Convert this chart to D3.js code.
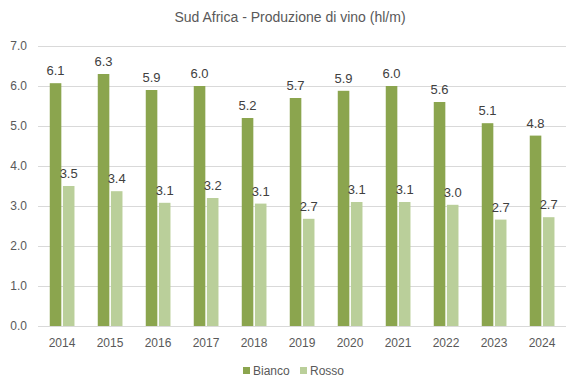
<!DOCTYPE html>
<html><head><meta charset="utf-8">
<script src="https://cdn.jsdelivr.net/npm/d3@7"></script>
<style>body{margin:0;background:#fff}svg{display:block}</style>
</head><body>
<svg id="c" width="581" height="392"></svg>
<script>
const years = ["2014","2015","2016","2017","2018","2019","2020","2021","2022","2023","2024"];
const bianco = [6.07,6.3,5.9,6.0,5.2,5.7,5.88,6.0,5.6,5.07,4.76];
const rosso = [3.5,3.37,3.08,3.2,3.06,2.68,3.1,3.1,3.03,2.66,2.72];
const seriesNames = ["Bianco","Rosso"];
const yTicks = [0,1,2,3,4,5,6,7];
const colors = ["#8BA54E","#BACF9A"];

const svg = d3.select("#c");
const font = "Liberation Sans, Arial, sans-serif";
const m = {l:38, r:15, t:46, b:66};
const W = 581, H = 392;
const x = d3.scaleBand().domain(years).range([m.l, W-m.r]).paddingInner(0).paddingOuter(0);
const y = d3.scaleLinear().domain([0,7]).range([H-m.b, m.t]);
const x1 = d3.scaleBand().domain(seriesNames).range([x.bandwidth()*0.245, x.bandwidth()*0.76]).paddingInner(0.12);

svg.append("g").selectAll("line").data(yTicks).join("line")
  .attr("x1", m.l).attr("x2", W-m.r).attr("y1", d=>y(d)+0.5).attr("y2", d=>y(d)+0.5)
  .attr("stroke","#d9d9d9").attr("stroke-width",1);

const yAxis = svg.append("g").attr("transform",`translate(${m.l},0)`)
  .call(d3.axisLeft(y).tickValues(yTicks).tickFormat(d3.format(".1f")).tickSize(0).tickPadding(11));
yAxis.select(".domain").remove();
yAxis.selectAll("text").attr("fill","#595959").style("font-family",font).style("font-size","12px");

const xAxis = svg.append("g").attr("transform",`translate(0,${H-m.b})`)
  .call(d3.axisBottom(x).tickSize(0).tickPadding(12));
xAxis.select(".domain").remove();
xAxis.selectAll("text").attr("fill","#595959").style("font-family",font).style("font-size","12px");

const data = years.map((yr,i)=>({yr, vals:[bianco[i], rosso[i]]}));
const g = svg.append("g").selectAll("g").data(data).join("g")
  .attr("transform", d=>`translate(${x(d.yr)},0)`);
g.selectAll("rect").data(d=>d.vals.map((v,j)=>({v,j}))).join("rect")
  .attr("x", d=>x1(seriesNames[d.j])).attr("width", x1.bandwidth())
  .attr("y", d=>y(d.v)).attr("height", d=>y(0)-y(d.v)).attr("fill", d=>colors[d.j]);
g.selectAll("text").data(d=>d.vals.map((v,j)=>({v,j}))).join("text")
  .attr("x", d=>x1(seriesNames[d.j])+x1.bandwidth()/2).attr("y", d=>y(d.v)-8)
  .attr("text-anchor","middle").attr("fill","#404040")
  .style("font-family",font).style("font-size","13px")
  .text(d=>d3.format(".1f")(d.v));

svg.append("text").attr("x", 290).attr("y", 22).attr("text-anchor","middle")
  .attr("fill","#595959").style("font-family",font).style("font-size","14px")
  .text("Sud Africa - Produzione di vino (hl/m)");

const leg = svg.append("g").attr("transform","translate(243,367)");
const items = [{n:"Bianco",x:0},{n:"Rosso",x:57}];
items.forEach((it,i)=>{
  leg.append("rect").attr("x",it.x).attr("y",0).attr("width",7).attr("height",7).attr("fill",colors[i]);
  leg.append("text").attr("x",it.x+10).attr("y",8).attr("fill","#595959")
    .style("font-family",font).style("font-size","12px").text(it.n);
});
</script>
</body></html>
